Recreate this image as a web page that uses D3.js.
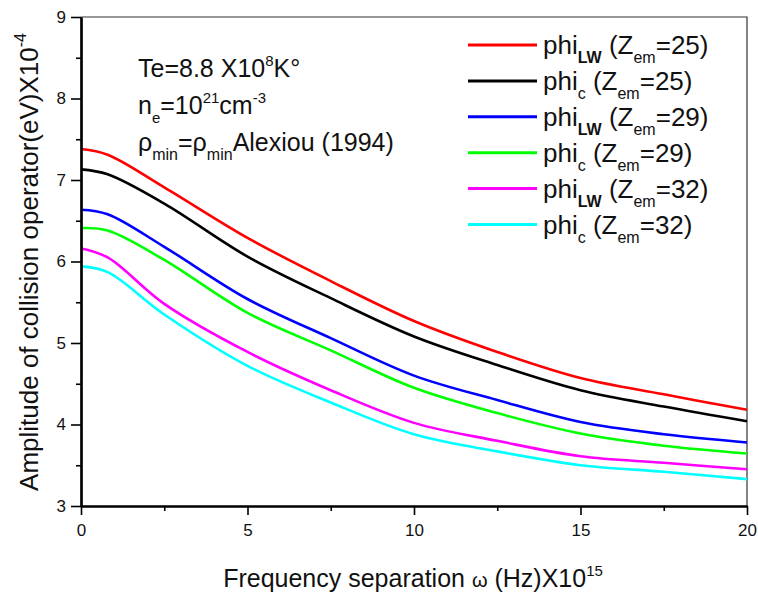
<!DOCTYPE html>
<html>
<head>
<meta charset="utf-8">
<script src="https://cdn.jsdelivr.net/npm/d3@7"></script>
<style>
  body { margin: 0; background: #fff; }
  svg text { font-family: "Liberation Sans", Arial, sans-serif; fill: #111; }
</style>
</head>
<body>
<svg id="chart" width="758" height="594"></svg>
<script>
// frequency separation (x 10^15 Hz)
var freq = [0, 0.8, 2.5, 5, 7.5, 10, 12.5, 15, 17.5, 20];

// amplitude of collision operator (x 10^-4 eV)
var phiLw25 = [7.38, 7.31, 6.91, 6.29, 5.76, 5.27, 4.89, 4.57, 4.37, 4.18];
var phiC25  = [7.13, 7.07, 6.71, 6.06, 5.55, 5.08, 4.73, 4.42, 4.22, 4.04];
var phiLw29 = [6.635, 6.58, 6.18, 5.54, 5.06, 4.60, 4.30, 4.03, 3.88, 3.78];
var phiC29  = [6.41, 6.38, 6.02, 5.37, 4.91, 4.45, 4.14, 3.89, 3.74, 3.645];
var phiLw32 = [6.16, 6.05, 5.48, 4.89, 4.42, 4.02, 3.80, 3.61, 3.53, 3.45];
var phiC32  = [5.94, 5.87, 5.35, 4.72, 4.27, 3.88, 3.67, 3.50, 3.42, 3.33];

var seriesNames = [
  ["phi", "LW", "25"], ["phi", "c", "25"],
  ["phi", "LW", "29"], ["phi", "c", "29"],
  ["phi", "LW", "32"], ["phi", "c", "32"]
];
var seriesValues = [phiLw25, phiC25, phiLw29, phiC29, phiLw32, phiC32];
var colors = ["#ff0000", "#000000", "#0000ff", "#00ff00", "#ff00ff", "#00ffff"];

var xTicks = [0, 5, 10, 15, 20];
var xMinor = [2.5, 7.5, 12.5, 17.5];
var yTicks = [3, 4, 5, 6, 7, 8, 9];
var yMinor = [3.5, 4.5, 5.5, 6.5, 7.5, 8.5];

var svg = d3.select("#chart");

var x = d3.scaleLinear().domain([0, 20]).range([81, 747]);
var y = d3.scaleLinear().domain([3, 9]).range([506, 17]);

// frame: thin top and right lines
svg.append("path")
  .attr("d", "M" + x(0) + "," + y(9) + "H" + x(20) + "V" + y(3))
  .attr("fill", "none")
  .attr("stroke", "#333")
  .attr("stroke-width", 1.2);

// curves
var line = d3.line()
  .curve(d3.curveCatmullRom.alpha(0.5))
  .x(function(d) { return x(d[0]); })
  .y(function(d) { return y(d[1]); });

svg.selectAll(".curve")
  .data(seriesValues)
  .enter().append("path")
  .attr("class", "curve")
  .attr("fill", "none")
  .attr("stroke", function(d, i) { return colors[i]; })
  .attr("stroke-width", 2.6)
  .attr("d", function(vals) { return line(vals.map(function(v, i) { return [freq[i], v]; })); });

// axes
var gx = svg.append("g")
  .attr("transform", "translate(0," + y(3) + ")")
  .call(d3.axisBottom(x).tickValues(xTicks).tickSize(9).tickSizeOuter(0).tickPadding(9).tickFormat(d3.format("d")));
var gxm = svg.append("g")
  .attr("transform", "translate(0," + y(3) + ")")
  .call(d3.axisBottom(x).tickValues(xMinor).tickSize(5).tickSizeOuter(0).tickFormat(""));

var gy = svg.append("g")
  .attr("transform", "translate(" + x(0) + ",0)")
  .call(d3.axisLeft(y).tickValues(yTicks).tickSize(10).tickSizeOuter(0).tickPadding(5).tickFormat(d3.format("d")));
var gym = svg.append("g")
  .attr("transform", "translate(" + x(0) + ",0)")
  .call(d3.axisLeft(y).tickValues(yMinor).tickSize(5).tickSizeOuter(0).tickFormat(""));

[gx, gxm, gy, gym].forEach(function(g) {
  g.select(".domain").attr("stroke", "#000").attr("stroke-width", 2.2);
  g.selectAll(".tick line").attr("stroke", "#000").attr("stroke-width", 1.6);
  g.selectAll(".tick text").style("font-size", "17px").attr("fill", "#111")
    .style("font-family", "'Liberation Sans', Arial, sans-serif");
});

// axis titles
var xt = svg.append("text")
  .attr("x", 413)
  .attr("y", 587)
  .attr("text-anchor", "middle")
  .style("font-size", "25px");
xt.append("tspan").text("Frequency separation ");
xt.append("tspan").text("\u03c9").style("font-size", "20px");
xt.append("tspan").text(" (Hz)X10");
xt.append("tspan").text("15").attr("dy", -11).style("font-size", "15px");

var yt = svg.append("text")
  .attr("transform", "translate(38,262) rotate(-90)")
  .attr("text-anchor", "middle")
  .style("font-size", "26px");
yt.append("tspan").text("Amplitude of collision operator(eV)X10");
yt.append("tspan").text("-4").attr("dy", -12).style("font-size", "16px");

// annotation block
var a1 = svg.append("text").attr("x", 138).attr("y", 77).style("font-size", "25px");
a1.append("tspan").text("Te=8.8 X10");
a1.append("tspan").text("8").attr("dy", -11).style("font-size", "15px");
a1.append("tspan").text("K\u00b0").attr("dy", 11);

var a2 = svg.append("text").attr("x", 138).attr("y", 114).style("font-size", "25px");
a2.append("tspan").text("n");
a2.append("tspan").text("e").attr("dy", 9).style("font-size", "15px");
a2.append("tspan").text("=10").attr("dy", -9);
a2.append("tspan").text("21").attr("dy", -11).style("font-size", "15px");
a2.append("tspan").text("cm").attr("dy", 11);
a2.append("tspan").text("-3").attr("dy", -11).style("font-size", "15px");

var a3 = svg.append("text").attr("x", 138).attr("y", 151).style("font-size", "25px");
a3.append("tspan").text("\u03c1");
a3.append("tspan").text("min").attr("dy", 9).style("font-size", "16px");
a3.append("tspan").text("=\u03c1").attr("dy", -9);
a3.append("tspan").text("min").attr("dy", 9).style("font-size", "16px");
a3.append("tspan").text("Alexiou (1994)").attr("dy", -9);

// legend
var legend = svg.append("g");
seriesNames.forEach(function(n, i) {
  var ry = 45 + i * 35.9;
  legend.append("line")
    .attr("x1", 468).attr("x2", 537)
    .attr("y1", ry).attr("y2", ry)
    .attr("stroke", colors[i])
    .attr("stroke-width", 3);
  var t = legend.append("text").attr("x", 543).attr("y", ry + 9).style("font-size", "26px");
  t.append("tspan").text(n[0]);
  t.append("tspan").text(n[1]).attr("dy", 9).style("font-size", "16px")
    .style("font-weight", n[1] === "LW" ? "bold" : "normal");
  t.append("tspan").text(" (Z").attr("dy", -9);
  t.append("tspan").text("em").attr("dy", 9).style("font-size", "16px");
  t.append("tspan").text("=" + n[2] + ")").attr("dy", -9);
});
</script>
</body>
</html>
